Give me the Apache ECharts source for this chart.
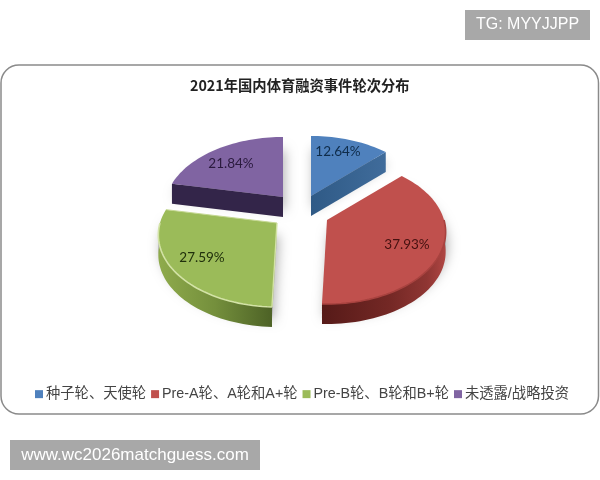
<!DOCTYPE html>
<html><head><meta charset="utf-8">
<style>html,body{margin:0;padding:0;background:#fff}#c{width:600px;height:480px;filter:blur(0.45px)}</style>
<script src="https://cdn.jsdelivr.net/npm/echarts@6/dist/echarts.min.js"></script>
</head><body><div id="c"></div>
<script>
const titleText = '2021年国内体育融资事件轮次分布';
const categories = ['种子轮、天使轮', 'Pre-A轮、A轮和A+轮', 'Pre-B轮、B轮和B+轮', '未透露/战略投资'];
const shares = [12.64, 37.93, 27.59, 21.84];
const colors = ['#4f81bd', '#c0504d', '#9bbb59', '#8064a2'];

// Drawing geometry of the tilted, exploded disc (not data)
const RX = 117, RY = 70, PERSP = 1 / 6, DEPTH = 20;
const apex = [[311, 196], [327, 220], [277, 223], [283, 197]];
const labelPos = [[338, 152], [407, 245], [202, 258], [231, 164]];
const labelColor = ['#0f2c4a', '#451110', '#20300c', '#2a1a3e'];
const wallFill = [
  '#3d6795',
  {type:'linear',x:0,y:0,x2:1,y2:0,colorStops:[{offset:0,color:'#561a18'},{offset:.55,color:'#742825'},{offset:.85,color:'#8f3633'},{offset:1,color:'#b04643'}]},
  {type:'linear',x:0,y:0,x2:1,y2:0,colorStops:[{offset:0,color:'#8fab4c'},{offset:.5,color:'#748f3c'},{offset:1,color:'#4d6226'}]},
  '#332549'
];
const cutFace = [
  {type:'linear',x:0,y:0,x2:1,y2:0,colorStops:[{offset:0,color:'#2f5a86'},{offset:1,color:'#406c9b'}]},
  null, null, '#332549'
];
const cutAt = ['end', null, null, 'start'];
const rimColor = [null, '#a8423f', '#d3e3a6', null];

function project(i, deg) {
  const t = deg * Math.PI / 180, u = Math.sin(t), v = -Math.cos(t);
  const s = 1 / (1 - PERSP * v);
  return [apex[i][0] + RX * u * s, apex[i][1] + RY * v * s];
}
function arc(i, a, b) {
  const pts = [], n = Math.max(2, Math.ceil(Math.abs(b - a) / 2));
  for (let k = 0; k <= n; k++) pts.push(project(i, a + (b - a) * k / n));
  return pts;
}
const down = (pts, d) => pts.map(p => [p[0], p[1] + d]);

function render(i) {
  return function () {
    const total = shares.reduce((s, x) => s + x, 0);
    let before = 0;
    for (let k = 0; k < i; k++) before += shares[k];
    const a = before / total * 360, b = (before + shares[i]) / total * 360;
    const rim = arc(i, a, b);
    const top = [apex[i]].concat(rim);
    const kids = [];
    kids.push({type:'polygon', shape:{points:down(top, DEPTH * .6)},
      style:{fill:'rgba(120,120,120,.55)', shadowBlur:12, shadowColor:'rgba(0,0,0,.55)', shadowOffsetX:2, shadowOffsetY:1}});
    const wa = Math.max(a, 90), wb = Math.min(b, 270);
    if (wb > wa) {
      const w = arc(i, wa, wb);
      kids.push({type:'polygon', shape:{points:w.concat(down(w, DEPTH).reverse())}, style:{fill:wallFill[i]}});
    }
    if (cutAt[i]) {
      const e = cutAt[i] === 'end' ? rim[rim.length - 1] : rim[0];
      const q = [apex[i], e, [e[0], e[1] + DEPTH], [apex[i][0], apex[i][1] + DEPTH]];
      kids.push({type:'polygon', shape:{points:q}, style:{fill:cutFace[i]}});
    }
    kids.push({type:'polygon', shape:{points:top}, style:{fill:colors[i]}});
    if (rimColor[i] && wb > wa) {
      kids.push({type:'polyline', shape:{points:arc(i, wa, wb)}, style:{fill:null, stroke:rimColor[i], lineWidth:1.6}});
    }
    if (i === 2) {
      kids.push({type:'polyline', shape:{points:[apex[i], rim[0]]}, style:{fill:null, stroke:'#d3e3a6', lineWidth:1.4}});
      kids.push({type:'polyline', shape:{points:[apex[i], rim[rim.length - 1]]}, style:{fill:null, stroke:'#c5d893', lineWidth:1}});
    }
    kids.push({type:'text', style:{text:shares[i].toFixed(2) + '%', x:labelPos[i][0], y:labelPos[i][1],
      align:'center', verticalAlign:'middle', fill:labelColor[i], font:'13.5px Lato, "Noto Sans", sans-serif'}});
    return {type:'group', children:kids};
  };
}

const seriesZ = [2, 3, 3, 2];
const chart = echarts.init(document.getElementById('c'), null, {renderer:'canvas'});
chart.setOption({
  animation:false,
  backgroundColor:'#fff',
  title:{text:titleText, left:185, top:73, textStyle:{fontSize:14.3, fontWeight:'bold', color:'#222', fontFamily:'"Noto Sans CJK SC", sans-serif'}},
  legend:{data:categories, left:30, top:382, itemWidth:8, itemHeight:8, itemGap:5, icon:'rect',
    textStyle:{fontSize:14.3, color:'#444', fontFamily:'"Liberation Sans","Noto Sans CJK SC",sans-serif', padding:[0,0,0,-2]}},
  graphic:[
    {type:'rect', z:-10, shape:{x:1,y:65,width:597.5,height:349,r:18}, style:{fill:'#fff', stroke:'#8a8a8a', lineWidth:1.5}},
    {type:'rect', z:10, shape:{x:465,y:10,width:125,height:30}, style:{fill:'#a8a8a8'}},
    {type:'text', z:11, style:{text:'TG: MYYJJPP', x:527.5, y:25, align:'center', verticalAlign:'middle', fill:'#fff', font:'16px "Liberation Sans", sans-serif'}},
    {type:'rect', z:10, shape:{x:10,y:440,width:250,height:30}, style:{fill:'#a8a8a8'}},
    {type:'text', z:11, style:{text:'www.wc2026matchguess.com', x:135, y:455, align:'center', verticalAlign:'middle', fill:'#fff', font:'17px "Liberation Sans", sans-serif'}}
  ],
  series:categories.map((name, i) => ({
    type:'custom', name, coordinateSystem:'none', z:seriesZ[i], silent:true,
    itemStyle:{color:colors[i]}, data:[shares[i]], renderItem:render(i)
  }))
});
</script></body></html>
